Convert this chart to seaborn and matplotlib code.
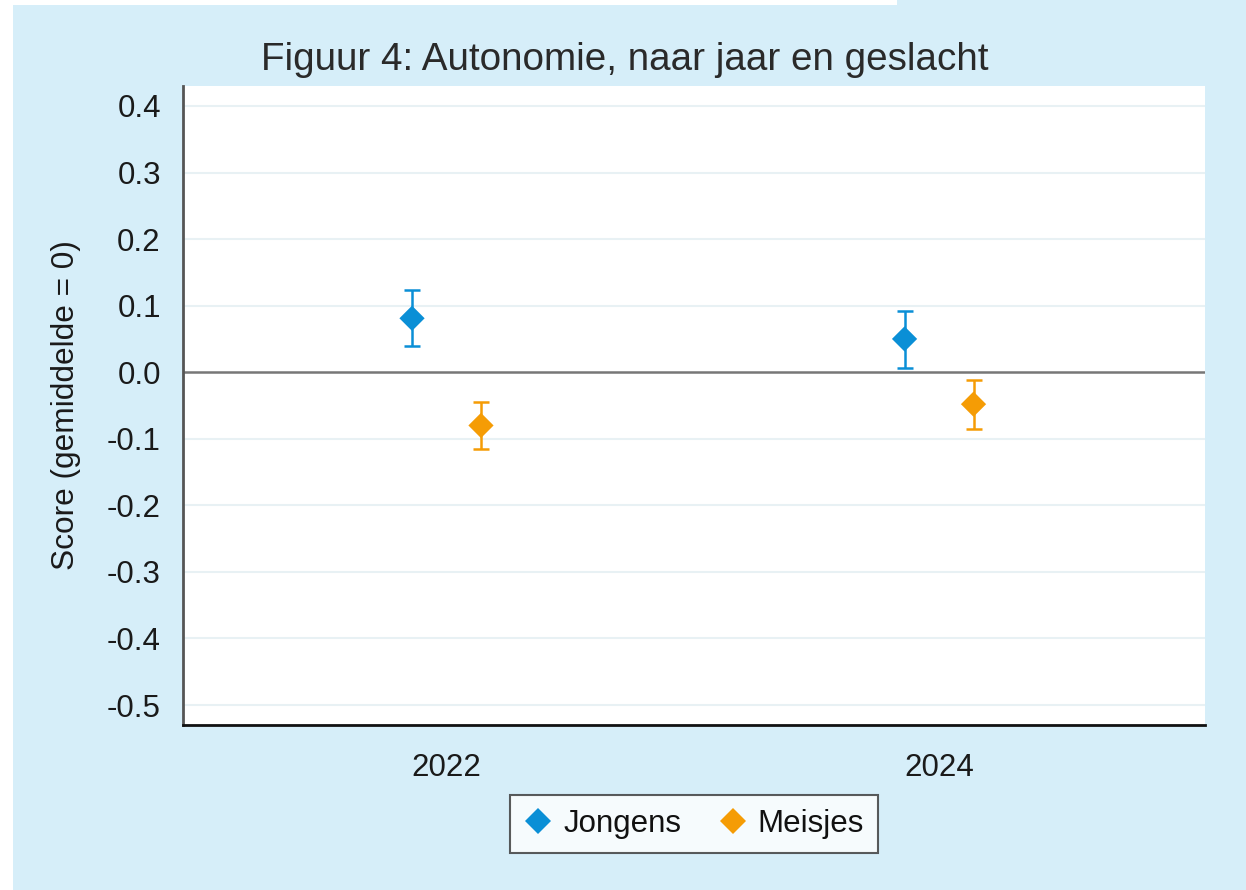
import matplotlib
matplotlib.use("Agg")
import matplotlib.pyplot as plt
import seaborn as sns
import pandas as pd
from matplotlib.patches import Rectangle
from matplotlib.lines import Line2D

# ---- data ----
years = [2022, 2024]
groups = ["Jongens", "Meisjes"]
jongens_mean = [0.081, 0.050]
jongens_lo = [0.039, 0.006]
jongens_hi = [0.123, 0.092]
meisjes_mean = [-0.080, -0.048]
meisjes_lo = [-0.116, -0.086]
meisjes_hi = [-0.044, -0.011]
y_ticks = [0.4, 0.3, 0.2, 0.1, 0.0, -0.1, -0.2, -0.3, -0.4, -0.5]
title = "Figuur 4: Autonomie, naar jaar en geslacht"
ylabel = "Score (gemiddelde = 0)"

colors = {"Jongens": "#0a8fd6", "Meisjes": "#f59c05"}
offsets = {"Jongens": -0.14, "Meisjes": 0.14}
bg = "#d6eef9"

rows = []
for g, m, lo, hi in [("Jongens", jongens_mean, jongens_lo, jongens_hi),
                     ("Meisjes", meisjes_mean, meisjes_lo, meisjes_hi)]:
    for yr, mv, l, h in zip(years, m, lo, hi):
        rows.append({"year": yr, "group": g, "mean": mv, "lo": l, "hi": h,
                     "x": yr + offsets[g]})
df = pd.DataFrame(rows)

sns.set_theme(style="white")
plt.rcParams["font.family"] = ["Liberation Sans", "DejaVu Sans"]

fig = plt.figure(figsize=(12.46, 8.90), dpi=100, facecolor=bg)
# white strips of the original screenshot
fig.patches.append(Rectangle((0, 0), 13 / 1246, 1, transform=fig.transFigure,
                             facecolor="white", edgecolor="none", zorder=0))
fig.patches.append(Rectangle((0, 1 - 5 / 890), 897 / 1246, 5 / 890,
                             transform=fig.transFigure, facecolor="white",
                             edgecolor="none", zorder=0))

ax = fig.add_axes([183 / 1246, 1 - 725 / 890, (1205 - 183) / 1246, (725 - 86) / 890])
ax.set_facecolor("white")

# grid lines
for t in y_ticks:
    if t == 0.0:
        ax.axhline(t, color="#777777", lw=1.8, zorder=1)
    else:
        ax.axhline(t, color="#e8f1f4", lw=1.5, zorder=0.5)

# error bars
for g in groups:
    sub = df[df["group"] == g]
    ax.errorbar(sub["x"], sub["mean"],
                yerr=[sub["mean"] - sub["lo"], sub["hi"] - sub["mean"]],
                fmt="none", ecolor=colors[g], elinewidth=1.8, capsize=5.8,
                capthick=1.8, zorder=2)

sns.scatterplot(data=df, x="x", y="mean", hue="group", palette=colors,
                marker="D", s=165, linewidth=0, ax=ax, zorder=3, legend=False)

ax.set_xlim(2020.93, 2025.08)
ax.set_ylim(-0.530, 0.430)
ax.set_xticks(years)
ax.set_xticklabels([str(y) for y in years])
ax.set_yticks(y_ticks)
ax.set_yticklabels([f"{t:.1f}" for t in y_ticks])
ax.set_xlabel("")
ax.set_ylabel("")
ax.tick_params(axis="both", direction="out", length=10, width=1.5,
               colors="#333333", labelcolor="#1a1a1a", labelsize=22.5, pad=6)
ax.tick_params(axis="x", pad=10)

for s in ["top", "right"]:
    ax.spines[s].set_visible(False)
ax.spines["left"].set_color("#555555")
ax.spines["left"].set_linewidth(2)
ax.spines["bottom"].set_color("#111111")
ax.spines["bottom"].set_linewidth(2)

fig.text(625 / 1246, 1 - 60 / 890, title, ha="center", va="center",
         fontsize=27.8, color="#2a2a2a")
fig.text(66 / 1246, 1 - 405 / 890, ylabel, ha="center", va="center",
         rotation=90, fontsize=22.8, color="#1a1a1a")

handles = [Line2D([0], [0], marker="D", linestyle="none", markersize=13,
                  markerfacecolor=colors[g], markeredgewidth=0, label=g)
           for g in groups]
leg = fig.legend(handles=handles, loc="center", ncol=2,
                 bbox_to_anchor=(694 / 1246, 1 - 824 / 890),
                 fontsize=22.5, frameon=True, fancybox=False,
                 handletextpad=0.35, columnspacing=1.2, handlelength=0.9,
                 borderpad=0.45, borderaxespad=0)
leg.get_frame().set_edgecolor("#333333")
leg.get_frame().set_linewidth(1.5)
leg.get_frame().set_facecolor("white")
for t in leg.get_texts():
    t.set_color("#111111")

fig.savefig("out.png", dpi=100, facecolor=bg)
